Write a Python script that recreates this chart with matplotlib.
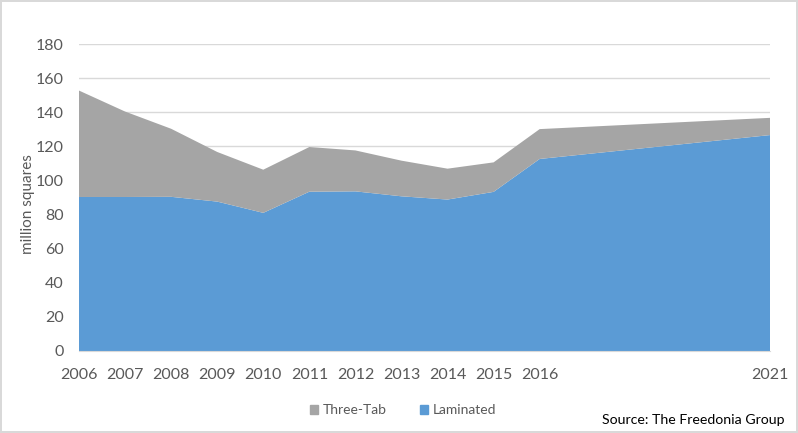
import matplotlib
matplotlib.use("Agg")
import matplotlib.pyplot as plt
from matplotlib.patches import Patch

# shingle demand, million squares
years = [2006, 2007, 2008, 2009, 2010, 2011, 2012, 2013, 2014, 2015, 2016, 2021]
laminated = [90.3, 90.3, 90.4, 87.6, 81.0, 93.4, 93.6, 90.7, 88.8, 93.3, 112.6, 126.6]
three_tab = [62.4, 50.1, 39.9, 29.1, 25.3, 26.2, 24.0, 20.9, 18.1, 17.3, 17.5, 10.1]
tick_years = years
y_ticks = [0, 20, 40, 60, 80, 100, 120, 140, 160, 180]

BLUE = "#5B9BD5"
GRAY = "#A5A5A5"
TXT = "#595959"

plt.rcParams["font.family"] = ["Lato", "DejaVu Sans"]

fig = plt.figure(figsize=(7.98, 4.33), dpi=100)
fig.patch.set_edgecolor("#D9D9D9")
fig.patch.set_linewidth(1.5)
ax = fig.add_axes([79 / 798, 82 / 433, 691 / 798, 307 / 433])

ax.stackplot(years, laminated, three_tab, colors=[BLUE, GRAY], linewidth=0)

ax.set_xlim(2006, 2021)
ax.set_ylim(0, 180)
ax.set_xticks(tick_years)
ax.set_xticklabels([str(y) for y in tick_years])
ax.set_yticks(y_ticks)
ax.yaxis.grid(True, color="#D9D9D9", linewidth=1)
ax.set_axisbelow(True)
ax.tick_params(length=0, labelsize=11.5, labelcolor=TXT)
ax.tick_params(axis="x", pad=12)
ax.tick_params(axis="y", pad=11)
for side in ["top", "right", "left"]:
    ax.spines[side].set_visible(False)
ax.spines["bottom"].set_color("#D9D9D9")

ax.set_ylabel("million squares", fontsize=11, color=TXT)
ax.yaxis.set_label_coords(-0.064, 0.48)

handles = [Patch(color=GRAY, label="Three-Tab"), Patch(color=BLUE, label="Laminated")]
fig.legend(handles=handles, loc="center", bbox_to_anchor=(403 / 798, 1 - 410 / 433),
           ncol=2, frameon=False, fontsize=10, labelcolor=TXT,
           handlelength=0.6, handleheight=0.6, handletextpad=0.3, columnspacing=2.4)

fig.text(785 / 798, 1 - 420 / 433, "Source: The Freedonia Group", ha="right", va="center",
         fontsize=10.2, color="black")

fig.savefig("out.png", dpi=100)
